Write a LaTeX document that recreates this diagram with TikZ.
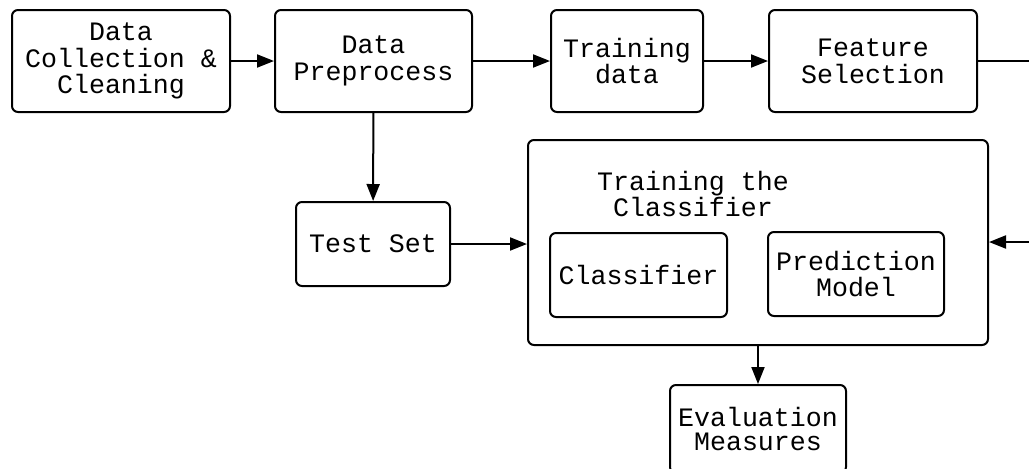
\documentclass[tikz,border=0pt]{standalone}
\usepackage{fontspec}
\setmonofont{Liberation Mono}
\usetikzlibrary{arrows.meta}
\tikzset{
  box/.style={draw, line width=1pt, rounded corners=3pt, inner sep=0pt, align=center,
    font=\ttfamily\fontsize{13.3}{13.4}\selectfont},
  conn/.style={line width=1pt},
  arr/.style={line width=1pt, -{Triangle[length=8.5pt,width=6.5pt]}},
  lbl/.style={inner sep=0pt, align=center, font=\ttfamily\fontsize{13.3}{13.4}\selectfont}
}
\begin{document}
\begin{tikzpicture}[x=0.5pt,y=-0.5pt]
\useasboundingbox (0,0) rectangle (1029,468);
\node[box, minimum width=109pt, minimum height=51pt] (dc) at (121,61) {Data\\Collection \&\\Cleaning};
\node[box, minimum width=98.5pt, minimum height=51pt] (dp) at (373.5,61) {Data\\Preprocess};
\node[box, minimum width=76pt, minimum height=51pt] (td) at (627,61) {Training\\data};
\node[box, minimum width=104pt, minimum height=51pt] (fs) at (873,61) {Feature\\Selection};
\node[box, minimum width=77pt, minimum height=42pt] (ts) at (373,244) {Test Set};
\node[box, minimum width=230pt, minimum height=102.5pt] (tc) at (758,242.5) {};
\node[lbl] (tt) at (693,194) {Training the\\Classifier};
\node[box, minimum width=88.5pt, minimum height=42pt] (cl) at (638.5,275) {Classifier};
\node[box, minimum width=88pt, minimum height=42pt] (pm) at (856,274) {Prediction\\Model};
\node[box, minimum width=88pt, minimum height=44pt] (em) at (758,429) {Evaluation\\[-1pt]Measures};
\coordinate (r1) at (1029,61);
\coordinate (r2) at (1029,242);
\draw[arr] (dc) -- (dp);
\draw[arr] (dp) -- (td);
\draw[arr] (td) -- (fs);
\draw[conn] (fs) -- (r1);
\draw[arr] (dp) -- (ts);
\draw[arr] (ts.east) -- (tc.west |- ts.east);
\draw[arr] (r2) -- (tc.east |- r2);
\draw[arr] (tc) -- (em);
\end{tikzpicture}
\end{document}
